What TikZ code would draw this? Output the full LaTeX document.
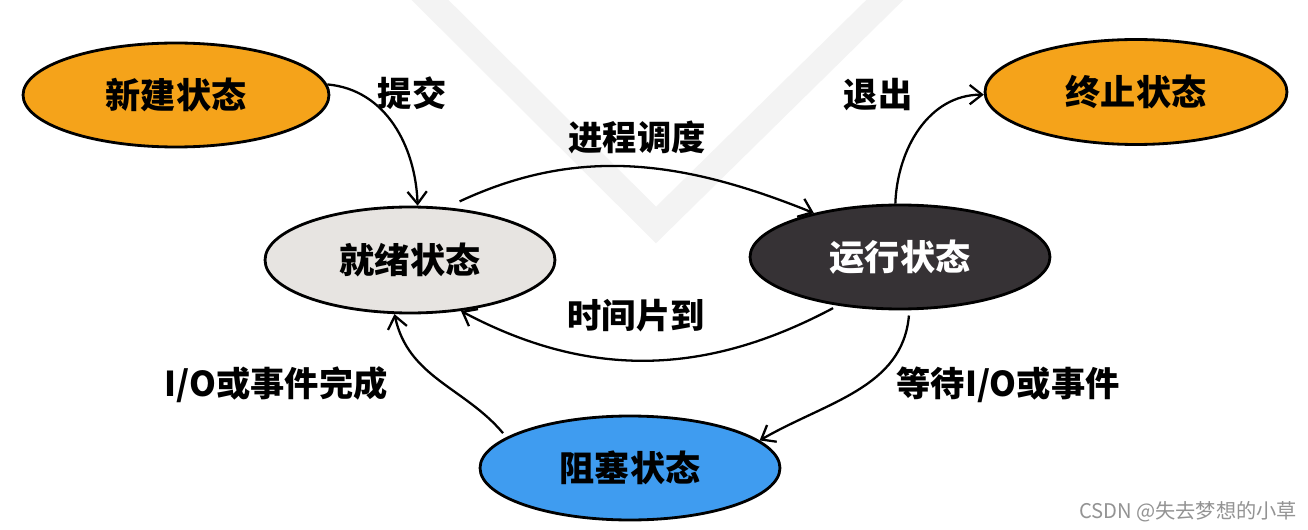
\documentclass[tikz,border=0pt]{standalone}
\usepackage{fontspec}
\setmainfont{Noto Sans CJK SC}
\usetikzlibrary{shapes.geometric,arrows.meta}
\definecolor{orangeS}{HTML}{F5A31A}
\definecolor{readyS}{HTML}{E7E4E1}
\definecolor{runS}{HTML}{363235}
\definecolor{blockS}{HTML}{3F9CF0}
\definecolor{wmark}{HTML}{F3F3F3}
\tikzset{
  state/.style={ellipse, draw=black, line width=1.6pt, inner sep=0pt,
    font=\fontsize{20}{20}\selectfont\bfseries},
  conn/.style={line width=1.3pt, -{Straight Barb[length=7pt,width=11pt,line width=1.3pt]}},
  lbl/.style={font=\fontsize{19.5}{20}\selectfont\bfseries, inner sep=0pt},
}
\begin{document}
\begin{tikzpicture}[x=0.02cm,y=-0.02cm]
\useasboundingbox (0,0) rectangle (1308,530);
\fill[white] (0,0) rectangle (1308,530);
% faint watermark
\draw[wmark, line width=0.52cm, line join=miter] (420,-10) -- (656,225) -- (895,-10);
% states
\node[state, fill=orangeS, minimum width=6.12cm, minimum height=2.08cm] (new) at (176,95) {新建状态};
\node[state, fill=orangeS, minimum width=6.04cm, minimum height=2.1cm] (term) at (1136,92) {终止状态};
\node[state, fill=readyS, minimum width=5.8cm, minimum height=2.12cm] (ready) at (410,260) {就绪状态};
\node[state, fill=runS, text=white, minimum width=6.0cm, minimum height=2.08cm] (run) at (900,257) {运行状态};
\node[state, fill=blockS, minimum width=6.0cm, minimum height=2.08cm] (block) at (630,468) {阻塞状态};
% connectors
\draw[conn] (new.4) to[out=-5,in=92] (ready.82);
\draw[conn, shorten <=8pt] (ready.55) to[out=25,in=158] (run.153);
\draw[conn] (run.95) to[out=88,in=180] (term.181);
\draw[conn, shorten <=3pt] (run.218) to[out=208,in=-28] (ready.-45);
\draw[conn, shorten <=3pt] (run.-80) to[out=-95,in=30] (block.12);
\draw[conn, shorten <=3pt] (block.166) to[out=130,in=-78] (ready.-106);
% labels
\node[lbl] (lsubmit) at (412,93) {提交};
\node[lbl] (lsched) at (637,137) {进程调度};
\node[lbl] (lexit) at (878,95) {退出};
\node[lbl] (ltime) at (636,316) {时间片到};
\node[lbl] (lio) at (276,385) {I/O或事件完成};
\node[lbl] (lwait) at (1008,385) {等待I/O或事件};
\node[font=\fontsize{11.5}{12}\selectfont, text=gray!85, inner sep=0pt] (csdn) at (1188,512) {CSDN @失去梦想的小草};
\end{tikzpicture}
\end{document}
